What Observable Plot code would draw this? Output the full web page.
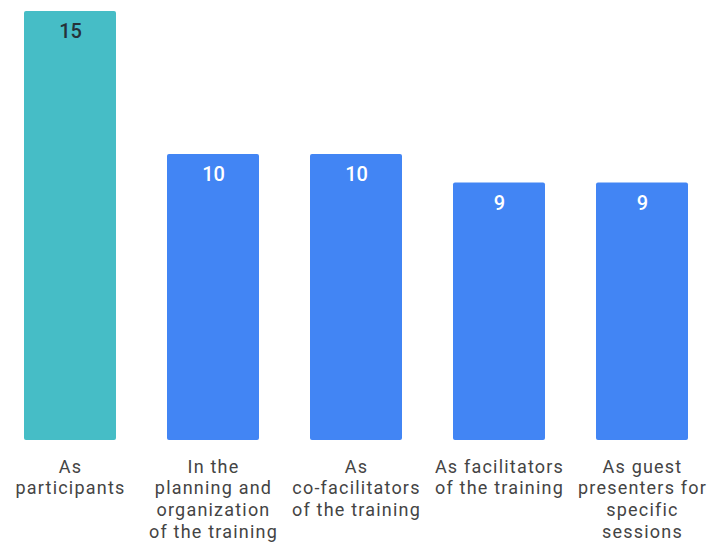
<!DOCTYPE html>
<html>
<head>
<meta charset="utf-8">
<script src="https://cdn.jsdelivr.net/npm/d3@7"></script>
<script src="https://cdn.jsdelivr.net/npm/@observablehq/plot@0.6"></script>
<style>
  html, body { margin: 0; padding: 0; background: #fff; }
  .lbl text { letter-spacing: 1.2px; }
</style>
</head>
<body>
<div id="chart"></div>
<script>
const categories = [
  "As participants",
  "In the planning and organization of the training",
  "As co-facilitators of the training",
  "As facilitators of the training",
  "As guest presenters for specific sessions"
];
const labels = [
  "As\nparticipants",
  "In the\nplanning and\norganization\nof the training",
  "As\nco-facilitators\nof the training",
  "As facilitators\nof the training",
  "As guest\npresenters for\nspecific\nsessions"
];
const values = [15, 10, 10, 9, 9];

const data = categories.map((c, i) => ({category: c, label: labels[i], value: values[i], idx: i}));
const TEAL = "#46bdc6", BLUE = "#4285f4";

const chart = Plot.plot({
  width: 710,
  height: 544,
  marginTop: 11,
  marginBottom: 104,
  marginLeft: 24,
  marginRight: 22,
  style: {fontFamily: "Roboto, 'Liberation Sans', sans-serif", background: "#fff"},
  x: {domain: categories, paddingInner: 0.357, paddingOuter: 0, axis: null},
  y: {domain: [0, 15], axis: null},
  marks: [
    Plot.barY(data, {x: "category", y: "value", fill: d => d.idx === 0 ? TEAL : BLUE, rx: 2}),
    Plot.text(data, {
      x: "category", y: "value", text: d => String(d.value),
      dy: 20, fontSize: 20, fontWeight: 500,
      fill: d => d.idx === 0 ? "#263238" : "#ffffff"
    }),
    Plot.text(data, {
      x: "category", y: () => 0, text: "label",
      lineAnchor: "top", dy: 17, lineHeight: 1.2, fontSize: 18,
      fill: "#444444", className: "lbl"
    })
  ]
});
document.getElementById("chart").appendChild(chart);
</script>
</body>
</html>
